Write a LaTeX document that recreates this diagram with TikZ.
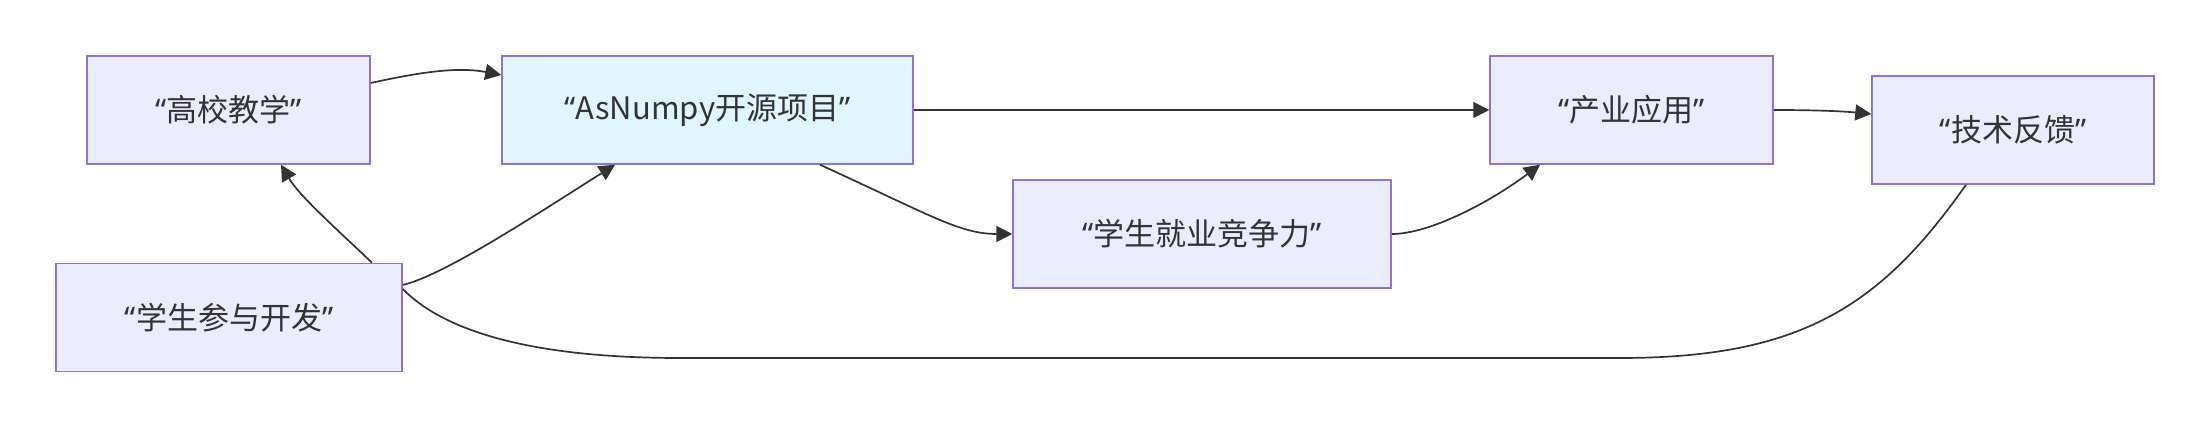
\documentclass[tikz,border=0pt]{standalone}
\usepackage{fontspec}
\setmainfont{Noto Sans}
\newfontfamily\cjk{Noto Sans CJK SC}
\usetikzlibrary{arrows.meta}
\definecolor{boxfill}{HTML}{ECECFF}
\definecolor{boxline}{HTML}{9370DB}
\definecolor{hlfill}{HTML}{E1F5FE}
\definecolor{ink}{HTML}{333333}
\newcommand{\qt}[1]{“{\cjk #1}”}
\begin{document}
\begin{tikzpicture}[x=1pt,y=1pt,
  nodebox/.style={draw=boxline, fill=boxfill, line width=1.5pt, minimum height=108pt,
    inner sep=0pt, text=ink, font=\fontsize{31}{36}\selectfont},
  link/.style={draw=ink, line width=1.7pt},
  arr/.style={link, -{Triangle[length=16pt,width=16pt]}}]
\useasboundingbox (0,0) rectangle (2209,427);
\node[nodebox, minimum width=283pt] (A) at (228.5,317) {\qt{高校教学}};
\node[nodebox, minimum width=411pt, fill=hlfill] (B) at (707.5,317) {\qt{AsNumpy开源项目}};
\node[nodebox, minimum width=346pt] (C) at (229,109.5) {\qt{学生参与开发}};
\node[nodebox, minimum width=378pt] (D) at (1202,193) {\qt{学生就业竞争力}};
\node[nodebox, minimum width=283pt] (E) at (1631.5,317) {\qt{产业应用}};
\node[nodebox, minimum width=282pt] (F) at (2013,297) {\qt{技术反馈}};

\draw[arr] ([yshift=27pt]A.east) .. controls (425,356) and (460,360) .. ([yshift=35pt]B.west);
\draw[arr] (B.east) -- (E.west);
\draw[arr] ([xshift=112.5pt]B.south) .. controls (930,212) and (960,193) .. (D.west);
\draw[arr] (D.east) .. controls (1430,193) and (1490,225) .. ([xshift=-91.5pt]E.south);
\draw[arr] (E.east) .. controls (1810,317) and (1840,316) .. ([yshift=16pt]F.west);
\draw[arr] ([xshift=143pt]C.north) .. controls (340,195) and (300,230) .. ([xshift=52.5pt]A.south);
\draw[arr] ([yshift=32.5pt]C.east) .. controls (445,152) and (540,215) .. ([xshift=-92.5pt]B.south);
\draw[link] ([yshift=28.5pt]C.east) .. controls (440,100) and (520,69) .. (680,69)
  -- (1620,69) .. controls (1800,69) and (1880,120) .. ([xshift=-47pt]F.south);
\end{tikzpicture}
\end{document}
